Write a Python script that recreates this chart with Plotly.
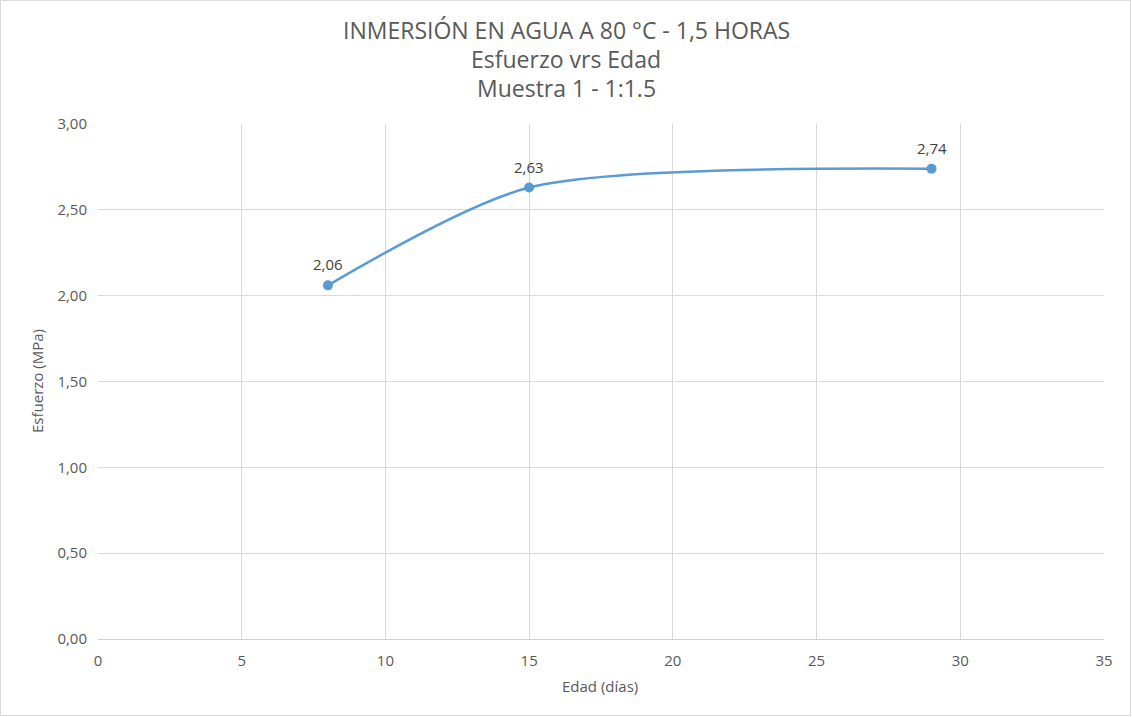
import plotly.graph_objects as go

# Datos
edad = [8, 15, 29]
esfuerzo = [2.06, 2.63, 2.74]
etiquetas = ["2,06", "2,63", "2,74"]

x_ticks = [0, 5, 10, 15, 20, 25, 30, 35]
y_ticks = [0, 0.5, 1.0, 1.5, 2.0, 2.5, 3.0]
y_ticktext = ["0,00", "0,50", "1,00", "1,50", "2,00", "2,50", "3,00"]

titulo = ["INMERSIÓN EN AGUA A 80 °C - 1,5 HORAS", "Esfuerzo vrs Edad", "Muestra 1 - 1:1.5"]

W, H = 1132, 717
L, R, T, B = 98, 28, 124, 78
pw, ph = W - L - R, H - T - B

GRIS = "#595959"
FONT = "Open Sans, Lato, sans-serif"


def px_x(x):
    return (x - L) / pw


def px_y(y):
    return (H - B - y) / ph


fig = go.Figure()

fig.add_trace(go.Scatter(
    x=edad, y=esfuerzo,
    mode='lines+markers',
    line=dict(color='#5b9bd5', width=2.5, shape='spline', smoothing=0.75),
    marker=dict(color='#5b9bd5', size=10),
    hoverinfo='x+y',
    showlegend=False,
    cliponaxis=False
))

# etiquetas de datos
for x, y, t in zip(edad, esfuerzo, etiquetas):
    fig.add_annotation(x=x, y=y, text=t, showarrow=False, yshift=21,
                       font=dict(size=15, color='#404040', family=FONT))

# título en tres líneas
for i, linea in enumerate(titulo):
    fig.add_annotation(xref='paper', yref='paper', x=px_x(566), y=px_y(30 + 29 * i),
                       text=linea, showarrow=False, xanchor='center', yanchor='middle',
                       font=dict(size=23, color=GRIS, family=FONT))

# títulos de ejes
fig.add_annotation(xref='paper', yref='paper', x=px_x(600), y=px_y(686),
                   text="Edad (días)", showarrow=False, xanchor='center', yanchor='middle',
                   font=dict(size=15, color=GRIS, family=FONT))
fig.add_annotation(xref='paper', yref='paper', x=px_x(37), y=px_y(381),
                   text="Esfuerzo (MPa)", showarrow=False, textangle=-90,
                   xanchor='center', yanchor='middle',
                   font=dict(size=15, color=GRIS, family=FONT))

fig.update_layout(
    width=W, height=H,
    margin=dict(l=L, r=R, t=T, b=B),
    paper_bgcolor='white',
    plot_bgcolor='white',
    font=dict(family=FONT, color=GRIS, size=15),
    xaxis=dict(
        range=[0, 35], tickvals=x_ticks,
        showgrid=True, gridcolor='#d9d9d9', gridwidth=1,
        showline=True, linecolor='#d0d0d0', linewidth=1,
        zeroline=False, ticks='', ticklabelstandoff=8,
        tickfont=dict(size=15, color=GRIS),
    ),
    yaxis=dict(
        range=[0, 3], tickvals=y_ticks, ticktext=y_ticktext,
        showgrid=True, gridcolor='#d9d9d9', gridwidth=1,
        showline=False, zeroline=False, ticks='', ticklabelstandoff=10,
        tickfont=dict(size=15, color=GRIS),
    ),
)

# borde del área del gráfico
fig.add_shape(
    type='rect', xref='paper', yref='paper',
    x0=px_x(0.5), x1=px_x(W - 1.5), y0=px_y(H - 1.5), y1=px_y(0.5),
    line=dict(color='#d9d9d9', width=1), fillcolor='rgba(0,0,0,0)', layer='below'
)

fig.write_html("out.html", config={'displayModeBar': False},
               post_script="document.body.style.margin='0';")
